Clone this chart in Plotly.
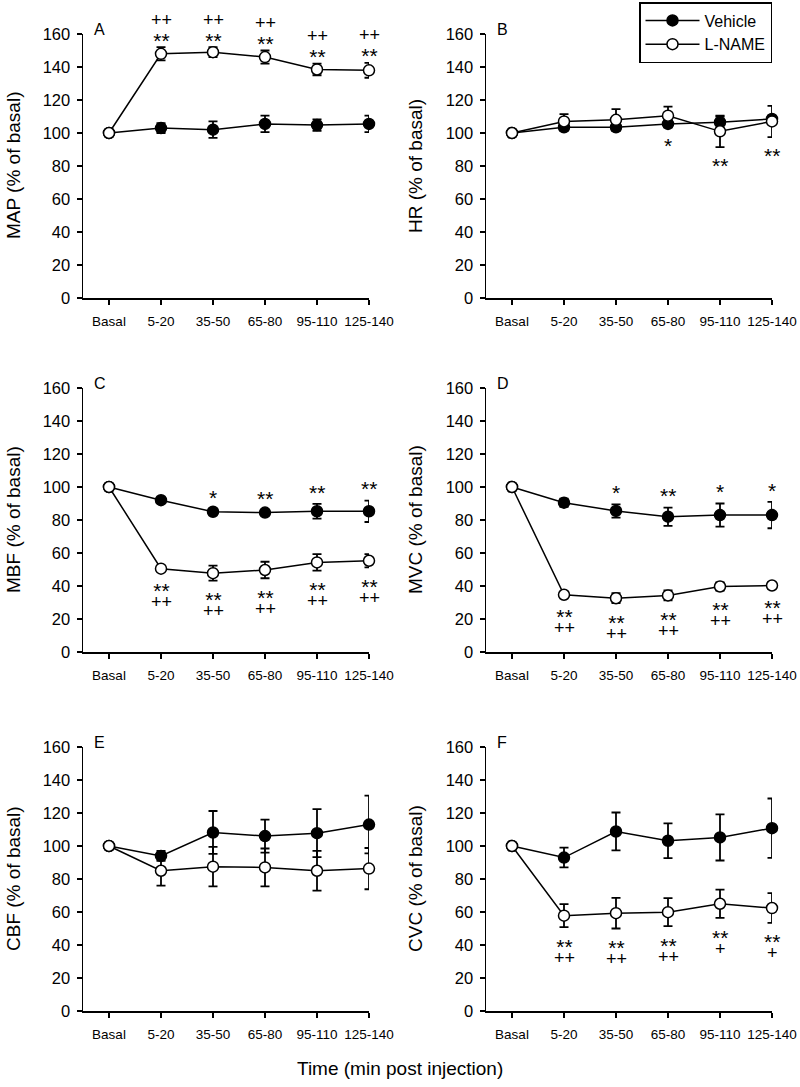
import plotly.graph_objects as go

categories = ["Basal", "5-20", "35-50", "65-80", "95-110", "125-140"]

# ---- Panel A: MAP ----
map_vehicle = [100, 103, 102, 105.5, 104.8, 105.5]
map_vehicle_err = [0, 3, 5, 5, 3.5, 5]
map_lname = [100, 148, 149, 146, 138.5, 138]
map_lname_err = [0, 4, 3, 4, 3.5, 4.5]
map_veh_sig = ["", "", "", "", "", ""]
map_ln_star = ["", "**", "**", "**", "**", "**"]
map_ln_plus = ["", "++", "++", "++", "++", "++"]

# ---- Panel B: HR ----
hr_vehicle = [100, 103.5, 103.5, 105.5, 106.5, 108.5]
hr_vehicle_err = [0, 2, 2, 2, 3.5, 2]
hr_lname = [100, 107, 108, 110.5, 101, 107]
hr_lname_err = [0, 4.5, 6.5, 5.5, 9.5, 9.5]
hr_veh_sig = ["", "", "", "", "", ""]
hr_ln_star = ["", "", "", "*", "**", "**"]
hr_ln_plus = ["", "", "", "", "", ""]

# ---- Panel C: MBF ----
mbf_vehicle = [100, 92, 85, 84.5, 85.3, 85.3]
mbf_vehicle_err = [0, 1.5, 1.5, 1.5, 4.5, 6.5]
mbf_lname = [100, 50.5, 47.8, 49.7, 54.3, 55.3]
mbf_lname_err = [0, 1.5, 4.5, 5, 5, 4]
mbf_veh_sig = ["", "", "*", "**", "**", "**"]
mbf_ln_star = ["", "**", "**", "**", "**", "**"]
mbf_ln_plus = ["", "++", "++", "++", "++", "++"]

# ---- Panel D: MVC ----
mvc_vehicle = [100, 90.5, 85.5, 82, 83, 83]
mvc_vehicle_err = [0, 2.5, 4, 5.5, 7, 8]
mvc_lname = [100, 34.7, 32.6, 34.3, 39.7, 40.3]
mvc_lname_err = [0, 1.5, 3, 3, 2.5, 2]
mvc_veh_sig = ["", "", "*", "**", "*", "*"]
mvc_ln_star = ["", "**", "**", "**", "**", "**"]
mvc_ln_plus = ["", "++", "++", "++", "++", "++"]

# ---- Panel E: CBF ----
cbf_vehicle = [100, 94, 108.2, 106, 107.8, 113]
cbf_vehicle_err = [0, 3, 13, 10, 14.5, 17.5]
cbf_lname = [100, 85, 87.5, 87, 85, 86.3]
cbf_lname_err = [0, 9, 12, 11.5, 12, 12.5]
cbf_veh_sig = ["", "", "", "", "", ""]
cbf_ln_star = ["", "", "", "", "", ""]
cbf_ln_plus = ["", "", "", "", "", ""]

# ---- Panel F: CVC ----
cvc_vehicle = [100, 93, 108.8, 103.2, 105.2, 110.8]
cvc_vehicle_err = [0, 6, 11.5, 10.5, 14, 18]
cvc_lname = [100, 57.8, 59.3, 59.9, 65, 62.4]
cvc_lname_err = [0, 7, 9.3, 8.5, 8.6, 9]
cvc_veh_sig = ["", "", "", "", "", ""]
cvc_ln_star = ["", "**", "**", "**", "**", "**"]
cvc_ln_plus = ["", "++", "++", "++", "+", "+"]

y_ticks = [0, 20, 40, 60, 80, 100, 120, 140, 160]

W, H = 800, 1087
FONT = "Liberation Sans, Arial, sans-serif"

panels = [
    dict(letter="A", title="MAP (% of basal)", veh=map_vehicle, veh_err=map_vehicle_err,
         ln=map_lname, ln_err=map_lname_err, veh_sig=map_veh_sig, ln_star=map_ln_star,
         ln_plus=map_ln_plus, side="above", px=(83, 369), py=(34, 298)),
    dict(letter="B", title="HR (% of basal)", veh=hr_vehicle, veh_err=hr_vehicle_err,
         ln=hr_lname, ln_err=hr_lname_err, veh_sig=hr_veh_sig, ln_star=hr_ln_star,
         ln_plus=hr_ln_plus, side="below", px=(486, 772), py=(34, 298)),
    dict(letter="C", title="MBF (% of basal)", veh=mbf_vehicle, veh_err=mbf_vehicle_err,
         ln=mbf_lname, ln_err=mbf_lname_err, veh_sig=mbf_veh_sig, ln_star=mbf_ln_star,
         ln_plus=mbf_ln_plus, side="below", px=(83, 369), py=(388, 652)),
    dict(letter="D", title="MVC (% of basal)", veh=mvc_vehicle, veh_err=mvc_vehicle_err,
         ln=mvc_lname, ln_err=mvc_lname_err, veh_sig=mvc_veh_sig, ln_star=mvc_ln_star,
         ln_plus=mvc_ln_plus, side="below", px=(486, 772), py=(388, 652)),
    dict(letter="E", title="CBF (% of basal)", veh=cbf_vehicle, veh_err=cbf_vehicle_err,
         ln=cbf_lname, ln_err=cbf_lname_err, veh_sig=cbf_veh_sig, ln_star=cbf_ln_star,
         ln_plus=cbf_ln_plus, side="below", px=(83, 369), py=(747, 1011)),
    dict(letter="F", title="CVC (% of basal)", veh=cvc_vehicle, veh_err=cvc_vehicle_err,
         ln=cvc_lname, ln_err=cvc_lname_err, veh_sig=cvc_veh_sig, ln_star=cvc_ln_star,
         ln_plus=cvc_ln_plus, side="below", px=(486, 772), py=(747, 1011)),
]

fig = go.Figure()
annotations = []
layout = {}

STAR_FS = 21
PLUS_FS = 18
STAR_RAISE = 4.8          # asterisk glyph sits above the centre of its text box
VEH_STAR_UP = 16.5        # glyph centre distance above vehicle error bar
LN_STAR_DOWN = 13.5       # single-line stars below the lowest error bar
BASE_BELOW = 8            # line spacing base for "**" over "++" stacks
BASE_ABOVE = 17           # line spacing base for "++" over "**" stacks


def span(txt, size):
    return '<span style="font-size:%spx">%s</span>' % (size, txt)


def sig(x, y, xa, ya, text, shift, size, yanchor="middle"):
    return dict(x=x, y=y, xref=xa, yref=ya, text=text, showarrow=False,
                yanchor=yanchor, yshift=shift,
                font=dict(size=size, family=FONT, color="black"))


for i, p in enumerate(panels):
    n = "" if i == 0 else str(i + 1)
    xa, ya = "x" + n, "y" + n
    x0, x1 = p["px"][0] / W, p["px"][1] / W
    y0, y1 = 1 - p["py"][1] / H, 1 - p["py"][0] / H
    axis_common = dict(showline=True, linecolor="black", linewidth=1.5, ticks="outside",
                       ticklen=5, tickwidth=1.5, tickcolor="black", showgrid=False,
                       zeroline=False, mirror=False, autorange=False, automargin=False)
    layout["xaxis" + n] = dict(domain=[x0, x1], anchor=ya, type="category",
                               categoryorder="array", categoryarray=categories,
                               range=[-0.5, 5], tickfont=dict(size=13.5, family=FONT, color="black"),
                               ticklabelstandoff=5, **axis_common)
    layout["yaxis" + n] = dict(domain=[y0, y1], anchor=xa, range=[0, 160], tickvals=y_ticks,
                               tickfont=dict(size=16.5, family=FONT, color="black"),
                               ticklabelstandoff=3, **axis_common)

    fig.add_trace(go.Scatter(
        x=categories, y=p["veh"], name="Vehicle", mode="lines+markers",
        xaxis=xa, yaxis=ya, showlegend=(i == 0), cliponaxis=False,
        line=dict(color="black", width=1.5),
        marker=dict(symbol="circle", size=11, color="black", line=dict(color="black", width=1.5)),
        error_y=dict(type="data", array=p["veh_err"], visible=True, color="black",
                     thickness=1.8, width=4.5)))
    fig.add_trace(go.Scatter(
        x=categories, y=p["ln"], name="L-NAME", mode="lines+markers",
        xaxis=xa, yaxis=ya, showlegend=(i == 0), cliponaxis=False,
        line=dict(color="black", width=1.5),
        marker=dict(symbol="circle", size=11, color="white", line=dict(color="black", width=1.5)),
        error_y=dict(type="data", array=p["ln_err"], visible=True, color="black",
                     thickness=1.8, width=4.5)))

    for k, c in enumerate(categories):
        if p["veh_sig"][k]:
            vtop = p["veh"][k] + p["veh_err"][k]
            annotations.append(sig(c, vtop, xa, ya, p["veh_sig"][k],
                                   VEH_STAR_UP - STAR_RAISE, STAR_FS))
        star, plus = p["ln_star"][k], p["ln_plus"][k]
        if not star and not plus:
            continue
        if p["side"] == "above":
            anchor = max(p["veh"][k] + p["veh_err"][k], p["ln"][k] + p["ln_err"][k])
            if plus:
                text = span(plus, PLUS_FS) + "<br>" + span(star, STAR_FS)
                annotations.append(sig(c, anchor, xa, ya, text, -6.5, BASE_ABOVE, "bottom"))
            else:
                annotations.append(sig(c, anchor, xa, ya, star, 11 - STAR_RAISE, STAR_FS))
        else:
            anchor = min(p["veh"][k] - p["veh_err"][k], p["ln"][k] - p["ln_err"][k])
            if plus:
                text = span(star, STAR_FS) + "<br>" + span(plus, PLUS_FS)
                annotations.append(sig(c, anchor, xa, ya, text, -5.6, BASE_BELOW, "top"))
            else:
                annotations.append(sig(c, anchor, xa, ya, star, -LN_STAR_DOWN - STAR_RAISE, STAR_FS))

    # panel letter
    annotations.append(dict(x=(p["px"][0] + 9) / W, y=1 - (p["py"][0] - 5) / H, xref="paper",
                            yref="paper", text=p["letter"], showarrow=False, xanchor="left",
                            yanchor="middle", font=dict(size=16, family=FONT, color="black")))
    # y-axis title
    tx = 13 if p["px"][0] < 400 else 415
    annotations.append(dict(x=tx / W, y=(y0 + y1) / 2, xref="paper", yref="paper",
                            text=p["title"], textangle=-90, showarrow=False,
                            xanchor="center", yanchor="middle",
                            font=dict(size=19, family=FONT, color="black")))

annotations.append(dict(x=400 / W, y=1 - 1068 / H, xref="paper", yref="paper",
                        text="Time (min post injection)", showarrow=False,
                        xanchor="center", yanchor="middle",
                        font=dict(size=19, family=FONT, color="black")))

fig.update_layout(
    width=W, height=H, margin=dict(l=0, r=0, t=0, b=0, autoexpand=False),
    paper_bgcolor="white", plot_bgcolor="white",
    font=dict(family=FONT, color="black"),
    annotations=annotations,
    legend=dict(x=772 / W, y=1 - 2 / H, xanchor="right", yanchor="top",
                bordercolor="black", borderwidth=1.5, bgcolor="white",
                font=dict(size=16, family=FONT, color="black"), tracegroupgap=0,
                itemwidth=54),
)
fig.update_layout(**layout)

fig.write_html(
    "out.html",
    config={"displayModeBar": False, "staticPlot": True},
    post_script="document.body.style.margin='0';document.body.style.padding='0';"
                "document.documentElement.style.overflow='hidden';",
)
